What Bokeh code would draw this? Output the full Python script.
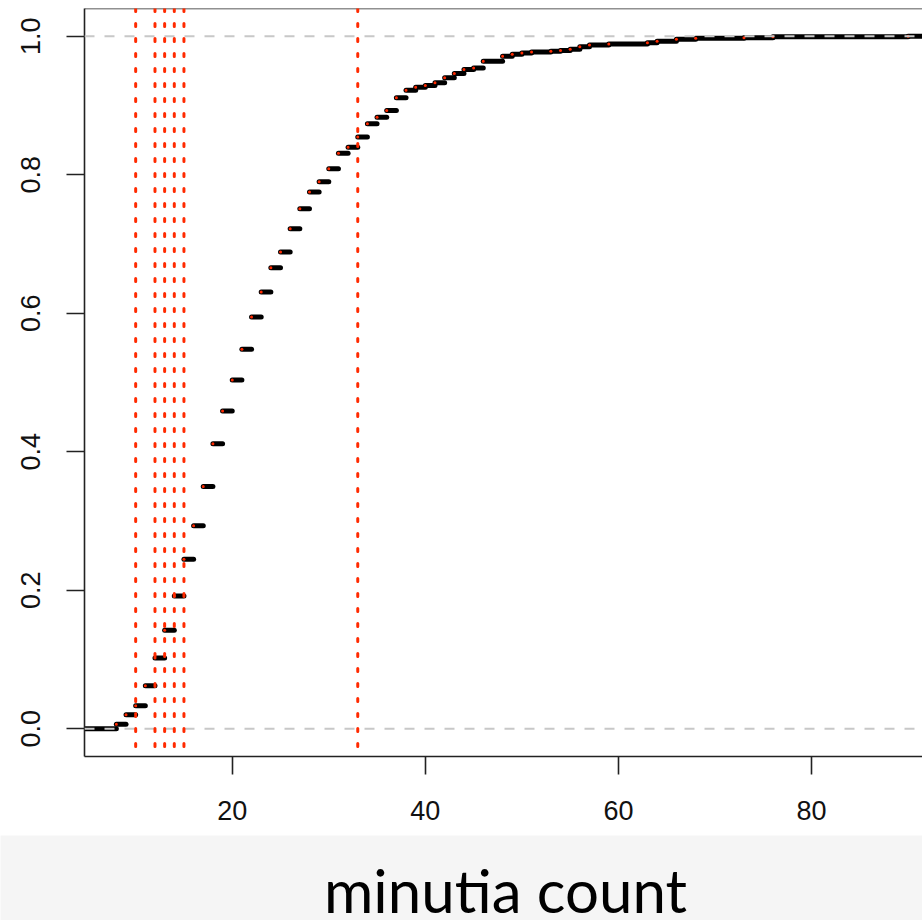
import numpy as np
from bokeh.plotting import figure
from bokeh.models import Span, FixedTicker, Range1d, Label, PrintfTickFormatter
from bokeh.layouts import column
from bokeh.embed import file_html
from bokeh.resources import INLINE

# ---- data ----
step_x = [8, 9, 10, 11, 12, 13, 14, 15, 16, 17, 18, 19, 20, 21, 22, 23, 24, 25,
          26, 27, 28, 29, 30, 31, 32, 33, 34, 35, 36, 37, 38, 39, 40, 41, 42, 43,
          44, 45, 46, 48, 49, 50, 51, 53, 54, 55, 56, 57, 59, 63, 64, 66, 68, 73,
          76, 90]
ecdf_y = [0.0067, 0.0202, 0.0333, 0.0622, 0.1021, 0.1422, 0.1918, 0.2448, 0.2930,
          0.3500, 0.4116, 0.4589, 0.5037, 0.5481, 0.5944, 0.6305, 0.6657, 0.6884,
          0.7221, 0.7510, 0.7751, 0.7900, 0.8088, 0.8310, 0.8396, 0.8544, 0.8735,
          0.8830, 0.8927, 0.9111, 0.9221, 0.9264, 0.9288, 0.9329, 0.9400, 0.9462,
          0.9520, 0.9541, 0.9638, 0.9712, 0.9740, 0.9759, 0.9773, 0.9783, 0.9795,
          0.9810, 0.9846, 0.9872, 0.9887, 0.9907, 0.9926, 0.9955, 0.9970, 0.9978,
          0.9993, 1.0000]
cut_x = [10, 12, 13, 14, 15, 33]
ref_y = [0.0, 1.0]
x_ticks = [20, 40, 60, 80]
y_ticks = [0.0, 0.2, 0.4, 0.6, 0.8, 1.0]
x_label = "minutia count"

X_START, X_END = 4.70, 91.49
Y_START, Y_END = -0.04, 1.04

W = 922
H_MAIN = 835
H_BAND = 85

p = figure(width=W, height=H_MAIN, output_backend="svg", toolbar_location=None,
           x_range=Range1d(X_START, X_END), y_range=Range1d(Y_START, Y_END),
           min_border_left=84, min_border_right=0, min_border_top=8,
           min_border_bottom=H_MAIN - 756)
p.frame_align = False
p.outline_line_color = None
p.grid.visible = False
p.background_fill_color = "white"
p.border_fill_color = "white"

for ax in (p.xaxis[0], p.yaxis[0]):
    ax.axis_line_color = "#222222"
    ax.axis_line_width = 1.6
    ax.major_tick_line_color = "#222222"
    ax.major_tick_line_width = 1.6
    ax.major_tick_out = 18
    ax.major_tick_in = 0
    ax.minor_tick_line_color = None
    ax.major_label_text_font = "Liberation Sans"
    ax.major_label_text_font_size = "27px"
    ax.major_label_text_color = "#111111"

p.xaxis[0].ticker = FixedTicker(ticks=x_ticks)
p.xaxis[0].major_label_standoff = 26
p.yaxis[0].ticker = FixedTicker(ticks=y_ticks)
p.yaxis[0].formatter = PrintfTickFormatter(format="%.1f")
p.yaxis[0].major_label_orientation = "vertical"
p.yaxis[0].major_label_standoff = 26

# step segments
sx = np.array(step_x, dtype=float)
sy = np.array(ecdf_y, dtype=float)
x0 = np.concatenate([[X_START - 50], sx])
x1 = np.concatenate([sx, [X_END + 50]])
yy = np.concatenate([[0.0], sy])
p.segment(x0=x0, y0=yy, x1=x1, y1=yy, line_color="black", line_width=5,
          line_cap="round")
p.scatter(x=sx, y=sy, size=3, color="#ff2a00", line_color=None)

# top frame line
p.add_layout(Span(location=Y_END, dimension="width", line_color="#222222",
                  line_width=1.6))

for v in ref_y:
    p.add_layout(Span(location=v, dimension="width", line_color="#c8c8c8",
                      line_width=2, line_dash="10 10"))
for c in cut_x:
    p.add_layout(Span(location=c, dimension="height", line_color="#ff2a00",
                      line_width=3, line_dash="3 12", line_cap="round"))

# bottom band with the axis title
b = figure(width=W, height=H_BAND, output_backend="svg", toolbar_location=None,
           x_range=Range1d(0, W), y_range=Range1d(0, H_BAND),
           min_border=0)
b.frame_align = False
b.axis.visible = False
b.grid.visible = False
b.outline_line_color = None
b.background_fill_color = "#f5f5f5"
b.border_fill_color = "#f5f5f5"
b.add_layout(Label(x=505, y=31, text=x_label, text_font="Lato",
                   text_font_size="60px", text_align="center",
                   text_baseline="middle", text_color="black"))

layout = column(p, b, spacing=0)
open("out.html", "w").write(file_html(layout, INLINE))
